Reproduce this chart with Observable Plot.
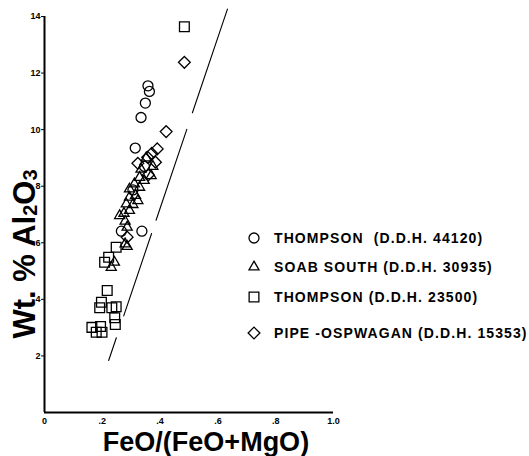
<!DOCTYPE html>
<html><head><meta charset="utf-8">
<script src="https://cdn.jsdelivr.net/npm/d3@7"></script>
<script src="https://cdn.jsdelivr.net/npm/@observablehq/plot@0.6"></script>
<style>
html,body{margin:0;padding:0;background:#fff;}
#wrap{width:529px;height:456px;}
</style></head><body><div id="wrap"></div>
<script>
// Series: [FeO/(FeO+MgO), Wt.% Al2O3]
const thompson44120 = [[.358,11.55],[.363,11.35],[.349,10.94],[.334,10.43],[.314,9.35],[.346,8.7],[.306,7.87],[.266,6.41],[.337,6.41]];
const soabSouth30935 = [[.352,9.0],[.375,8.7],[.334,8.6],[.369,8.37],[.329,8.31],[.345,8.2],[.311,8.08],[.294,7.9],[.329,7.96],[.315,7.67],[.294,7.61],[.323,7.49],[.283,7.37],[.306,7.35],[.275,7.04],[.26,6.96],[.294,7.14],[.279,6.76],[.286,6.55],[.279,5.96],[.286,5.87],[.242,5.31],[.231,5.13]];
const thompson23500 = [[.484,13.64],[.248,5.84],[.222,5.49],[.208,5.31],[.217,4.31],[.197,3.9],[.191,3.7],[.248,3.74],[.233,3.7],[.243,3.35],[.245,3.11],[.164,3.01],[.179,2.84],[.199,2.84],[.194,3.04]];
const pipeOspwagan15353 = [[.484,12.38],[.421,9.93],[.39,9.32],[.371,9.16],[.357,9.02],[.323,8.81],[.384,8.85],[.359,8.4],[.286,6.2]];
const refLine = [[.222,1.84],[.633,14.26]];
const xTicks = [0,.2,.4,.6,.8,1];
const xTickLabels = ["0",".2",".4",".6",".8","1.0"];
const yTicks = [2,4,6,8,10,12,14];
const seriesNames = ["THOMPSON  (D.D.H. 44120)","SOAB SOUTH (D.D.H. 30935)","THOMPSON (D.D.H. 23500)","PIPE -OSPWAGAN (D.D.H. 15353)"];
const seriesSymbols = ["circle","triangle2","square2","diamond2"];
const seriesR = [5,4.8,6.2,5.3];
const seriesData = [thompson44120, soabSouth30935, thompson23500, pipeOspwagan15353];

const plot = Plot.plot({
  width: 529, height: 456,
  marginLeft: 44, marginRight: 196, marginTop: 16, marginBottom: 44,
  x: {domain: [0, 1]},
  y: {domain: [0, 14]},
  style: {fontFamily: "'Liberation Sans', Arial, sans-serif", fontSize: "9px", color: "black", background: "white"},
  marks: [
    Plot.axisY({ticks: yTicks, tickSize: 3, tickPadding: 1, label: null, fontWeight: "bold"}),
    Plot.axisX({ticks: xTicks, tickFormat: d => xTickLabels[xTicks.indexOf(d)], tickSize: 0, tickPadding: 5, label: null, fontWeight: "bold"}),
    Plot.ruleX([0], {y1: 0, y2: 14, strokeWidth: 2}),
    Plot.ruleY([0], {x1: 0, x2: 1, strokeWidth: 2}),
    Plot.line(refLine, {x: d => d[0], y: d => d[1], strokeWidth: 1.1, strokeDasharray: "24,23,87,14,96,17.5,110"}),
    ...seriesData.map((data, i) => Plot.dot(data, {x: d => d[0], y: d => d[1], symbol: seriesSymbols[i], r: seriesR[i], stroke: "black", strokeWidth: 1.3, fill: "none"}))
  ]
});
document.getElementById("wrap").appendChild(plot);

const svg = d3.select(plot);
const FONT = "'Liberation Sans', Arial, sans-serif";
// axis titles
svg.append("text")
  .attr("transform", "translate(35,254) rotate(-90)")
  .attr("text-anchor", "middle")
  .attr("font-family", FONT)
  .attr("font-weight", "bold").attr("font-size", 31)
  .call(t => {
    t.append("tspan").text("Wt. % Al");
    t.append("tspan").attr("font-size", 20).attr("dy", 2).text("2");
    t.append("tspan").attr("dy", -2).text("O");
    t.append("tspan").attr("font-size", 20).attr("dy", 2).text("3");
  });
svg.append("text")
  .attr("x", 206).attr("y", 451)
  .attr("text-anchor", "middle")
  .attr("font-family", FONT)
  .attr("font-weight", "bold").attr("font-size", 27)
  .text("FeO/(FeO+MgO)");

// legend
const rowY = [238, 267, 297, 333];
const symMap = {circle: d3.symbolCircle, triangle2: d3.symbolTriangle2, square2: d3.symbolSquare2, diamond2: d3.symbolDiamond2};
const leg = svg.append("g");
seriesNames.forEach((name, i) => {
  leg.append("path")
    .attr("transform", `translate(254,${rowY[i]})`)
    .attr("d", d3.symbol(symMap[seriesSymbols[i]], Math.PI * seriesR[i] * seriesR[i])())
    .attr("fill", "none").attr("stroke", "black").attr("stroke-width", 1.3);
  leg.append("text")
    .attr("x", 274).attr("y", rowY[i] + 5)
    .attr("text-anchor", "start")
    .attr("font-family", FONT)
    .attr("font-weight", "bold").attr("font-size", 14)
    .attr("letter-spacing", "1.1px")
    .style("white-space", "pre")
    .text(name);
});
</script>
</body></html>
